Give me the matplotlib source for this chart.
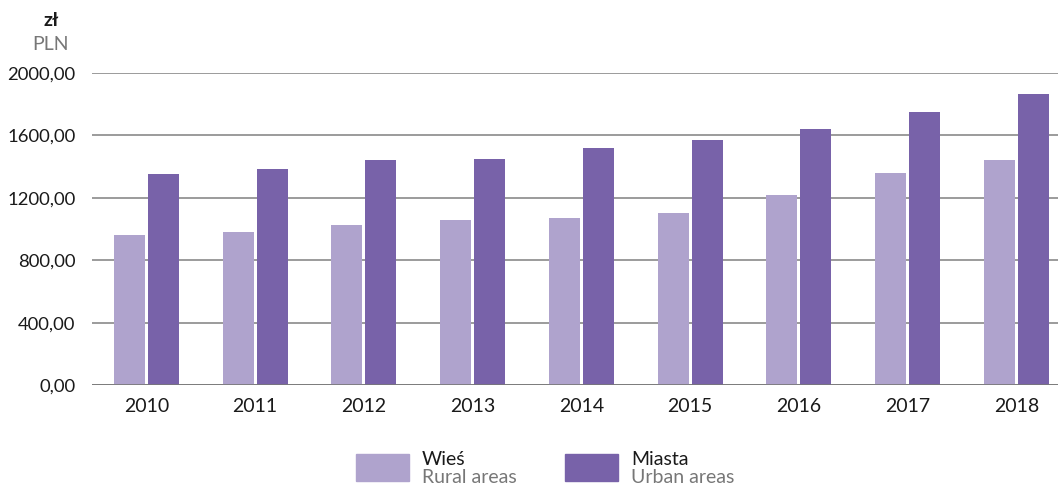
import matplotlib
matplotlib.use("Agg")
import matplotlib.pyplot as plt
import numpy as np
from matplotlib.patches import Rectangle

years = ["2010", "2011", "2012", "2013", "2014", "2015", "2016", "2017", "2018"]
rural = [962, 981, 1026, 1058, 1071, 1103, 1218, 1359, 1442]
urban = [1352, 1384, 1442, 1448, 1519, 1570, 1640, 1749, 1864]
yticks = [0, 400, 800, 1200, 1600, 2000]
ytick_labels = ["0,00", "400,00", "800,00", "1200,00", "1600,00", "2000,00"]

c_rural = "#afa3cd"
c_urban = "#7862a9"

plt.rcParams['font.family'] = ['Lato', 'DejaVu Sans']

W, H = 1058, 486
fig = plt.figure(figsize=(W / 100, H / 100), dpi=100)
ax_left = 92 / W
ax_bottom = (H - 385.3) / H
ax_h = 312.6 / H
ax_w = 9 * 108.75 / W
ax = fig.add_axes([ax_left, ax_bottom, ax_w, ax_h])

x = np.arange(len(years))
bw = 0.285
off = 0.156
ax.bar(x - off, rural, bw, color=c_rural, zorder=3)
ax.bar(x + off, urban, bw, color=c_urban, zorder=3)

ax.set_xlim(-0.5, len(years) - 0.5)
ax.set_ylim(0, 2000)
ax.set_yticks(yticks)
ax.set_yticklabels(ytick_labels, fontsize=13.3, color="#1a1a1a")
ax.set_xticks(x)
ax.set_xticklabels(years, fontsize=14, color="#1a1a1a")
ax.tick_params(axis="both", length=0)
ax.tick_params(axis="y", pad=12)
ax.tick_params(axis="x", pad=9)
for s in ax.spines.values():
    s.set_visible(False)
ax.grid(axis="y", color="#8a8a8a", linewidth=1.2, zorder=0)
ax.axhline(0, color="#777777", linewidth=1.2, zorder=4)

fig.text(51 / W, 1 - 20 / H, "zł", fontsize=14, fontweight="bold", color="#1a1a1a", ha="center", va="center")
fig.text(51 / W, 1 - 45 / H, "PLN", fontsize=14, color="#777777", ha="center", va="center")

# legend
for (x0, lab1, lab2, col) in [(356, "Wieś", "Rural areas", c_rural), (565, "Miasta", "Urban areas", c_urban)]:
    fig.patches.append(Rectangle((x0 / W, 1 - 481 / H), 53 / W, 27 / H, transform=fig.transFigure, color=col))
    fig.text((x0 + 66) / W, 1 - 459 / H, lab1, fontsize=14, color="#1a1a1a", ha="left", va="center")
    fig.text((x0 + 66) / W, 1 - 477 / H, lab2, fontsize=14, color="#777777", ha="left", va="center")

fig.savefig("out.png", dpi=100)
